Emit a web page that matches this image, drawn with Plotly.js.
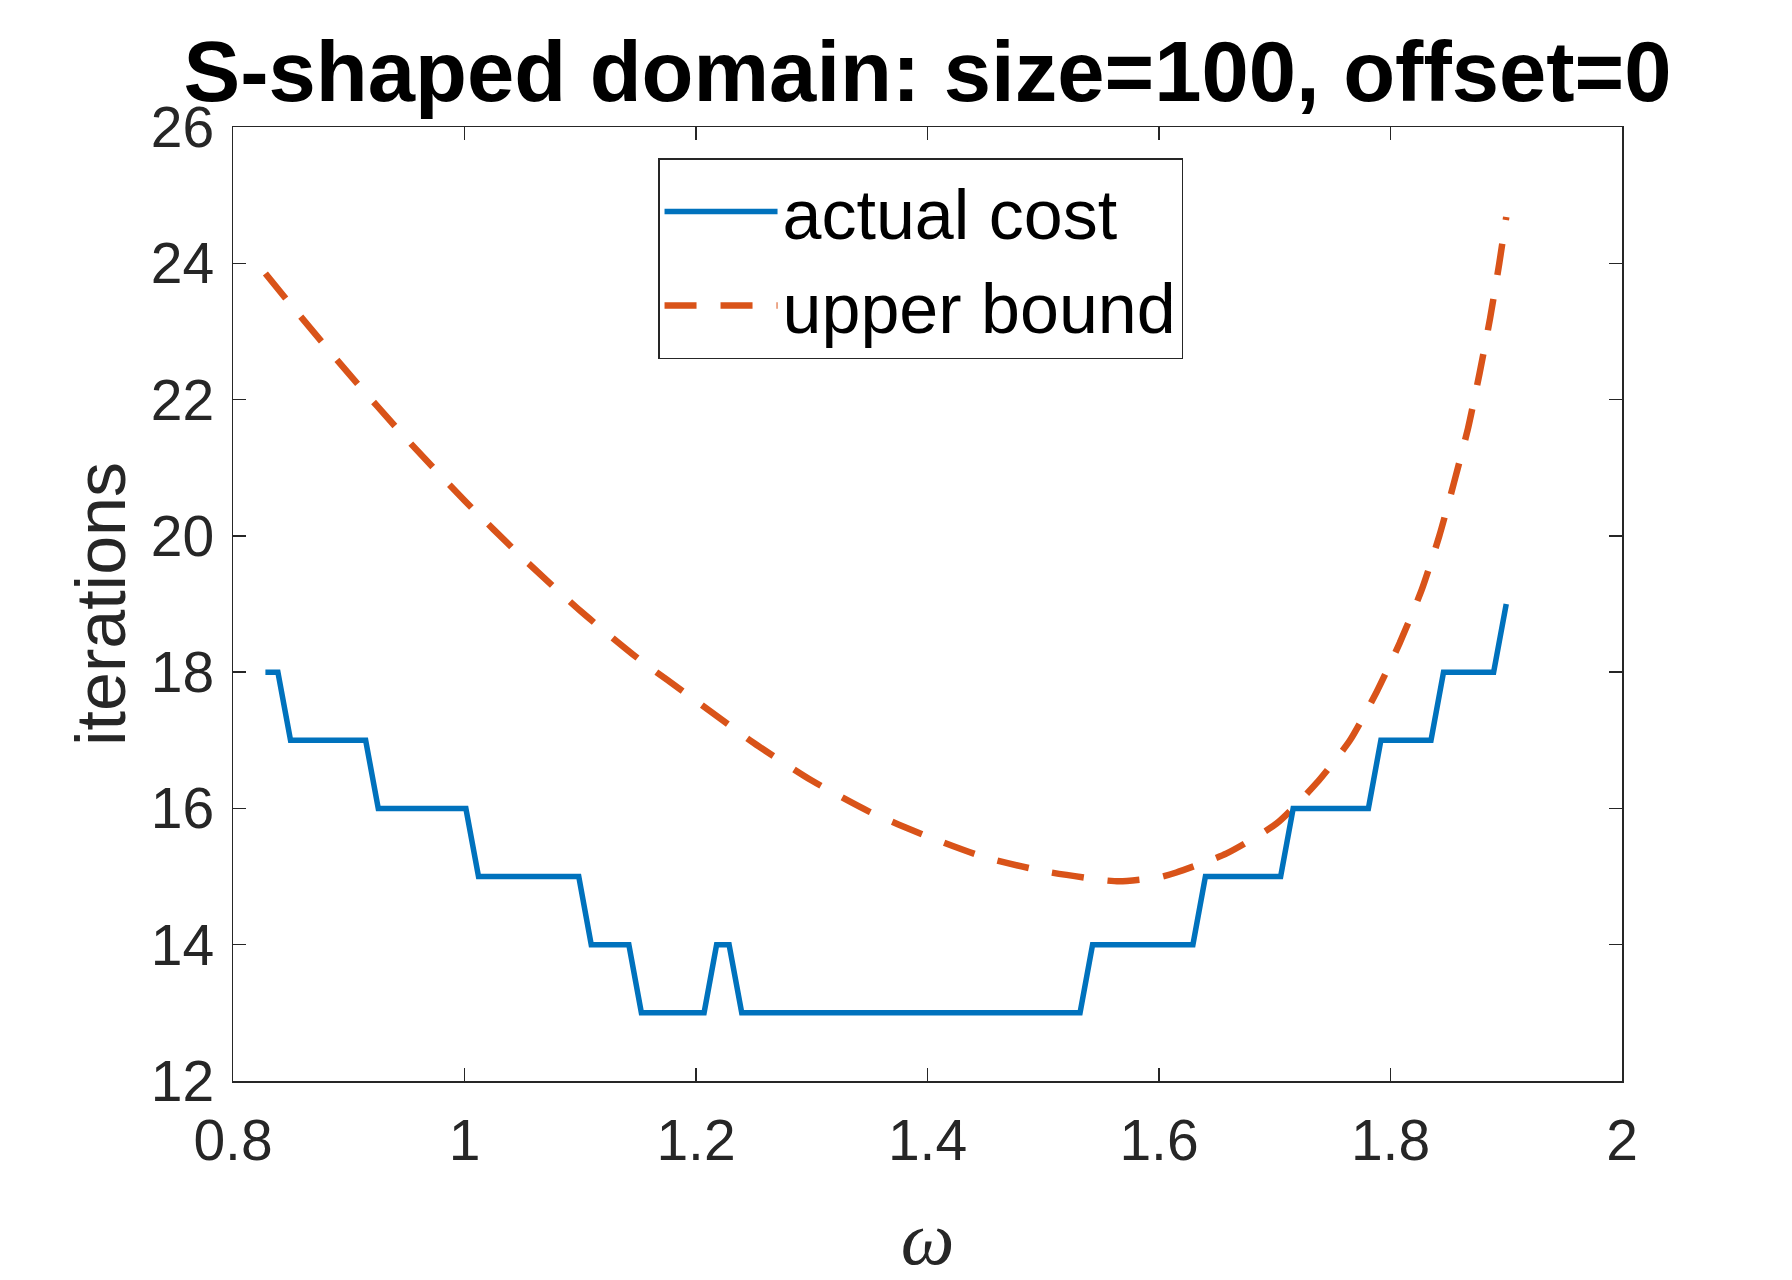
<!DOCTYPE html>
<html>
<head>
<meta charset="utf-8">
<script src="https://cdn.plot.ly/plotly-3.0.1.min.js"></script>
<style>
  html, body { margin: 0; padding: 0; background: #fff; }
  #plot { width: 1792px; height: 1280px; }
</style>
</head>
<body>
<div id="plot"></div>
<script>
// relaxation parameter, 100 samples from ~0.828 to 1.9
const omega = [
  0.8280, 0.8388, 0.8497, 0.8605, 0.8713, 0.8821, 0.8930, 0.9038, 0.9146, 0.9255,
  0.9363, 0.9471, 0.9579, 0.9688, 0.9796, 0.9904, 1.0012, 1.0121, 1.0229, 1.0337,
  1.0446, 1.0554, 1.0662, 1.0770, 1.0879, 1.0987, 1.1095, 1.1204, 1.1312, 1.1420,
  1.1528, 1.1637, 1.1745, 1.1853, 1.1962, 1.2070, 1.2178, 1.2286, 1.2395, 1.2503,
  1.2611, 1.2719, 1.2828, 1.2936, 1.3044, 1.3153, 1.3261, 1.3369, 1.3477, 1.3586,
  1.3694, 1.3802, 1.3911, 1.4019, 1.4127, 1.4235, 1.4344, 1.4452, 1.4560, 1.4668,
  1.4777, 1.4885, 1.4993, 1.5102, 1.5210, 1.5318, 1.5426, 1.5535, 1.5643, 1.5751,
  1.5860, 1.5968, 1.6076, 1.6184, 1.6293, 1.6401, 1.6509, 1.6617, 1.6726, 1.6834,
  1.6942, 1.7051, 1.7159, 1.7267, 1.7375, 1.7484, 1.7592, 1.7700, 1.7809, 1.7917,
  1.8025, 1.8133, 1.8242, 1.8350, 1.8458, 1.8567, 1.8675, 1.8783, 1.8891, 1.9000
];

// measured iteration counts at each omega
const actualCost = [
  18, 18, 17, 17, 17, 17, 17, 17, 17, 16,
  16, 16, 16, 16, 16, 16, 16, 15, 15, 15,
  15, 15, 15, 15, 15, 15, 14, 14, 14, 14,
  13, 13, 13, 13, 13, 13, 14, 14, 13, 13,
  13, 13, 13, 13, 13, 13, 13, 13, 13, 13,
  13, 13, 13, 13, 13, 13, 13, 13, 13, 13,
  13, 13, 13, 13, 13, 13, 14, 14, 14, 14,
  14, 14, 14, 14, 14, 15, 15, 15, 15, 15,
  15, 15, 16, 16, 16, 16, 16, 16, 16, 17,
  17, 17, 17, 17, 18, 18, 18, 18, 18, 19
];

const boundOmega = [
  0.828, 0.85, 0.90, 0.95, 1.00, 1.05, 1.10, 1.15, 1.20, 1.25,
  1.30, 1.35, 1.40, 1.45, 1.50, 1.55, 1.566, 1.60, 1.615, 1.6585,
  1.7017, 1.736, 1.765, 1.788, 1.808, 1.827, 1.842, 1.855, 1.867, 1.877,
  1.886, 1.894, 1.900
];
const upperBound = [
  23.85, 23.39, 22.38, 21.42, 20.52, 19.68, 18.90, 18.20, 17.58, 16.96,
  16.41, 15.95, 15.59, 15.28, 15.08, 14.95, 14.93, 14.99, 15.06, 15.34,
  15.78, 16.37, 17.00, 17.71, 18.43, 19.21, 19.99, 20.79, 21.58, 22.39,
  23.19, 24.00, 24.68
];

const xTicks = [0.8, 1, 1.2, 1.4, 1.6, 1.8, 2];
const yTicks = [12, 14, 16, 18, 20, 22, 24, 26];

const SANS = 'Liberation Sans, Arial, Helvetica, sans-serif';
const AXIS_COLOR = '#262626';

const boundTrace = {
  x: boundOmega,
  y: upperBound,
  type: 'scatter',
  mode: 'lines',
  name: 'upper bound',
  legendrank: 2,
  line: {color: '#D95319', width: 6.5, dash: '32px,24px', shape: 'spline', smoothing: 0.6}
};

const costTrace = {
  x: omega,
  y: actualCost,
  type: 'scatter',
  mode: 'lines',
  name: 'actual cost',
  legendrank: 1,
  line: {color: '#0072BD', width: 5.5}
};

const axisCommon = {
  showline: true,
  linecolor: AXIS_COLOR,
  linewidth: 1.5,
  mirror: 'ticks',
  ticks: 'inside',
  ticklen: 13,
  tickwidth: 1.5,
  tickcolor: AXIS_COLOR,
  showgrid: false,
  zeroline: false,
  tickfont: {family: SANS, size: 57, color: AXIS_COLOR}
};

const layout = {
  width: 1792,
  height: 1280,
  margin: {l: 233, r: 170, t: 127, b: 199, pad: 0},
  paper_bgcolor: '#ffffff',
  plot_bgcolor: '#ffffff',
  font: {family: SANS, color: AXIS_COLOR},
  title: {
    text: '<b>S-shaped domain: size=100, offset=0</b>',
    font: {family: SANS, size: 85, color: '#000000'},
    x: 0.5,
    xref: 'paper',
    y: 0.9445,
    yref: 'container',
    yanchor: 'middle'
  },
  xaxis: Object.assign({}, axisCommon, {
    range: [0.8, 2],
    tickvals: xTicks,
    ticktext: xTicks.map(String),
    ticklabelstandoff: 9,
    title: {
      text: '<i>ω</i>',
      font: {family: 'Liberation Serif, Times New Roman, serif', size: 76, color: AXIS_COLOR},
      standoff: 43
    }
  }),
  yaxis: Object.assign({}, axisCommon, {
    range: [12, 26],
    tickvals: yTicks,
    ticktext: yTicks.map(String),
    ticklabelstandoff: 6,
    title: {
      text: 'iterations',
      font: {family: SANS, size: 70, color: AXIS_COLOR},
      standoff: 2
    }
  }),
  showlegend: true,
  legend: {
    x: 0.306,
    y: 0.9675,
    xanchor: 'left',
    yanchor: 'top',
    bgcolor: '#ffffff',
    bordercolor: AXIS_COLOR,
    borderwidth: 1.5,
    itemwidth: 113,
    font: {family: SANS, size: 70, color: '#000000'}
  }
};

Plotly.newPlot('plot', [boundTrace, costTrace], layout, {staticPlot: true, displayModeBar: false});
</script>
</body>
</html>
